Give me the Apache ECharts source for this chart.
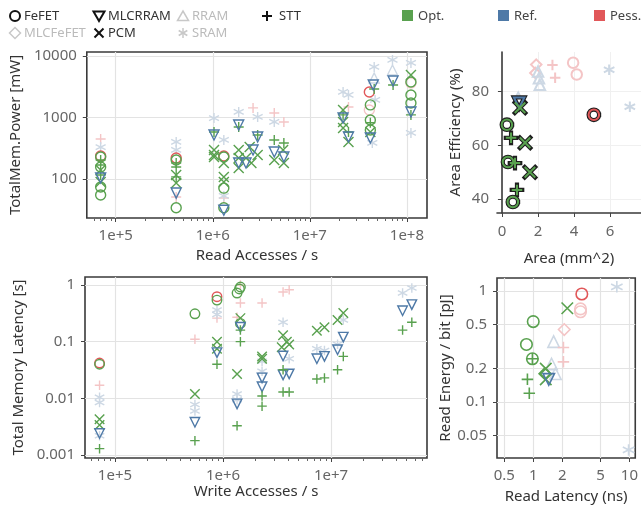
<!DOCTYPE html>
<html><head><meta charset="utf-8">
<script src="https://cdn.jsdelivr.net/npm/echarts@6/dist/echarts.min.js"></script>
<style>html,body{margin:0;padding:0;background:#fff}#c{width:641px;height:506px}</style>
</head><body><div id="c"></div>
<script>
// ---------- DATA ----------
// Techs: FeFET, MLCFeFET, MLCRRAM, RRAM, PCM, SRAM, STT
// Scenario codes: O = Opt., R = Ref., P = Pess.; lowercase = faded marker
const readPowerData = [ // [read accesses/s, total mem. power mW, tech, scen]
  [7e4,447,'STT','p'],[7e4,331,'SRAM','r'],[7e4,237,'FeFET','P'],[7e4,228,'FeFET','O'],[7e4,204,'STT','O'],
  [7e4,169,'STT','O'],[7e4,157,'FeFET','O'],[7e4,140,'PCM','O'],[7e4,116,'STT','O'],[7e4,104,'MLCRRAM','R'],
  [7e4,89,'PCM','O'],[7e4,74,'FeFET','O'],[7e4,55,'FeFET','O'],
  [4.2e5,400,'SRAM','r'],[4.2e5,296,'SRAM','r'],[4.2e5,219,'FeFET','P'],[4.2e5,204,'FeFET','O'],[4.2e5,182,'STT','O'],
  [4.2e5,157,'STT','O'],[4.2e5,116,'PCM','O'],[4.2e5,108,'STT','O'],[4.2e5,86,'PCM','O'],[4.2e5,59,'MLCRRAM','R'],
  [4.2e5,51,'STT','p'],[4.2e5,34,'FeFET','O'],
  [1.03e6,980,'SRAM','r'],[1.03e6,581,'STT','O'],[1.03e6,519,'MLCRRAM','R'],[1.03e6,296,'PCM','O'],[1.03e6,245,'PCM','O'],[1.03e6,228,'PCM','O'],
  [1.3e6,431,'SRAM','r'],[1.3e6,237,'FeFET','P'],[1.3e6,228,'FeFET','O'],[1.3e6,182,'PCM','O'],[1.3e6,108,'PCM','O'],
  [1.3e6,89,'PCM','O'],[1.3e6,71,'FeFET','O'],[1.3e6,49,'STT','p'],[1.3e6,53,'SRAM','r'],[1.3e6,34,'FeFET','O'],[1.3e6,31,'MLCRRAM','R'],
  [1.85e6,1230,'SRAM','r'],[1.85e6,755,'MLCRRAM','R'],[1.85e6,700,'STT','O'],[1.85e6,296,'PCM','O'],[1.85e6,219,'PCM','O'],
  [1.85e6,182,'MLCRRAM','R'],[1.85e6,151,'PCM','O'],
  [2.6e6,1430,'STT','p'],[2.9e6,1020,'SRAM','r'],[2.9e6,482,'MLCRRAM','R'],[2.9e6,519,'STT','O'],[2.4e6,331,'PCM','O'],
  [2.9e6,245,'PCM','O'],[2.5e6,182,'PCM','O'],[2.6e6,296,'MLCRRAM','R'],[2.2e6,182,'MLCRRAM','R'],[2.2e6,219,'PCM','O'],
  [4.3e6,1180,'STT','p'],[5.4e6,845,'STT','p'],[4.3e6,845,'SRAM','r'],[4.3e6,431,'STT','O'],[5.4e6,385,'STT','O'],
  [4.3e6,275,'MLCRRAM','R'],[5.4e6,228,'MLCRRAM','R'],[4.3e6,204,'PCM','O'],[5.4e6,182,'PCM','O'],[5.3e6,296,'PCM','O'],
  [2.2e7,2600,'SRAM','r'],[2.5e7,2320,'SRAM','r'],[2.5e7,1480,'STT','p'],[2.2e7,1320,'PCM','O'],[2.2e7,1100,'STT','O'],
  [2.2e7,980,'MLCRRAM','R'],[2.2e7,845,'PCM','O'],[2.2e7,675,'PCM','O'],[2.5e7,581,'STT','O'],[2.5e7,482,'MLCRRAM','R'],[2.5e7,400,'PCM','O'],
  [4.6e7,6630,'SRAM','r'],[4.6e7,4390,'RRAM','r'],[4.5e7,3370,'MLCRRAM','R'],[4.6e7,2900,'STT','O'],[4.1e7,2600,'FeFET','P'],
  [4.7e7,1930,'SRAM','r'],[4.2e7,1600,'FeFET','O'],[4.1e7,1320,'FeFET','p'],[4.2e7,910,'FeFET','O'],[4.2e7,820,'STT','O'],
  [4.2e7,626,'FeFET','O'],[4.2e7,581,'PCM','O'],[4.2e7,464,'MLCRRAM','R'],[4.4e7,385,'SRAM','r'],
  [7.1e7,8600,'SRAM','r'],[7.1e7,5910,'RRAM','r'],[7.2e7,3920,'MLCRRAM','R'],[7.2e7,3370,'STT','O'],
  [1.1e8,7700,'SRAM','r'],[1.1e8,4910,'PCM','O'],[1.1e8,3650,'FeFET','p'],[1.1e8,3780,'FeFET','O'],[1.1e8,2320,'FeFET','O'],
  [1.1e8,1720,'FeFET','O'],[1.1e8,1230,'MLCRRAM','R'],[1.1e8,1100,'STT','O'],[1.1e8,560,'SRAM','r']
];
const areaEffData = [ // [area mm^2, area efficiency %, tech, scen]
  [1.9,90.1,'MLCFeFET','p'],[1.85,87,'MLCFeFET','p'],[2.8,90,'STT','p'],[2.95,85.2,'STT','p'],
  [3.95,90.8,'FeFET','p'],[4.15,86.4,'FeFET','p'],[2.0,87.5,'RRAM','r'],[2.1,82.6,'RRAM','r'],[2.05,85,'RRAM','r'],
  [5.95,88.2,'SRAM','r'],[7.1,74.4,'SRAM','r'],[0.9,77.8,'RRAM','r'],
  [0.95,75.9,'MLCRRAM','R'],[1.0,74,'PCM','O'],[5.1,71.4,'FeFET','P'],
  [0.27,67.7,'FeFET','O'],[0.5,62.8,'STT','O'],[1.28,61,'PCM','O'],[0.33,53.8,'FeFET','O'],[0.72,53.4,'STT','O'],
  [1.55,50,'PCM','O'],[0.83,43.4,'STT','O'],[0.6,38.9,'FeFET','O']
];
const writeLatencyData = [ // [write accesses/s, total memory latency s, tech, scen]
  [7.2e4,0.042,'FeFET','P'],[7.2e4,0.040,'FeFET','O'],[7.2e4,0.017,'STT','p'],[7.2e4,0.0105,'SRAM','r'],[7.2e4,0.0085,'SRAM','r'],
  [7.2e4,0.0043,'PCM','O'],[7.2e4,0.0034,'PCM','O'],[7.2e4,0.0022,'SRAM','r'],[7.2e4,0.0024,'MLCRRAM','R'],[7.2e4,0.0013,'STT','O'],
  [5.5e5,0.31,'FeFET','O'],[5.5e5,0.11,'STT','p'],[5.5e5,0.012,'PCM','O'],[5.5e5,0.0078,'SRAM','r'],[5.5e5,0.006,'SRAM','r'],
  [5.5e5,0.0038,'MLCRRAM','R'],[5.5e5,0.0018,'STT','O'],
  [8.8e5,0.62,'FeFET','P'],[8.8e5,0.54,'FeFET','O'],[8.8e5,0.36,'SRAM','r'],[8.8e5,0.30,'SRAM','r'],[8.8e5,0.26,'STT','p'],
  [8.8e5,0.10,'PCM','O'],[8.8e5,0.075,'PCM','O'],[8.8e5,0.064,'MLCRRAM','R'],[8.8e5,0.040,'STT','O'],
  [1.35e6,0.72,'FeFET','O'],[1.45e6,0.92,'FeFET','O'],[1.42e6,0.85,'FeFET','O'],[1.45e6,1.0,'STT','p'],[1.45e6,0.48,'STT','p'],
  [1.35e6,0.27,'STT','p'],[1.45e6,0.26,'PCM','O'],[1.45e6,0.21,'FeFET','O'],[1.45e6,0.18,'MLCRRAM','R'],[1.45e6,0.16,'STT','O'],
  [1.45e6,0.10,'STT','O'],[1.35e6,0.027,'PCM','O'],[1.35e6,0.012,'SRAM','r'],[1.35e6,0.0095,'SRAM','r'],[1.35e6,0.008,'MLCRRAM','R'],
  [1.35e6,0.0033,'STT','O'],
  [2.3e6,0.48,'STT','p'],[2.3e6,0.055,'PCM','O'],[2.3e6,0.05,'PCM','O'],[2.3e6,0.045,'SRAM','r'],[2.3e6,0.03,'SRAM','r'],
  [2.3e6,0.023,'MLCRRAM','R'],[2.3e6,0.016,'MLCRRAM','R'],[2.3e6,0.011,'STT','O'],[2.3e6,0.0073,'STT','O'],
  [3.6e6,0.75,'STT','p'],[4.1e6,0.82,'STT','p'],[3.6e6,0.22,'SRAM','r'],[3.6e6,0.13,'PCM','O'],[3.9e6,0.10,'PCM','O'],
  [4.1e6,0.089,'PCM','O'],[3.5e6,0.08,'PCM','O'],[3.6e6,0.056,'MLCRRAM','R'],[4.1e6,0.05,'SRAM','r'],[3.6e6,0.032,'STT','O'],
  [3.6e6,0.026,'MLCRRAM','R'],[4.1e6,0.027,'MLCRRAM','R'],[3.6e6,0.013,'STT','O'],[4.1e6,0.013,'STT','O'],
  [7.4e6,0.155,'PCM','O'],[8.7e6,0.18,'PCM','O'],[7.4e6,0.075,'SRAM','r'],[8.7e6,0.07,'SRAM','r'],[7.4e6,0.05,'MLCRRAM','R'],
  [8.7e6,0.055,'MLCRRAM','R'],[7.4e6,0.022,'STT','O'],[8.7e6,0.023,'STT','O'],
  [1.15e7,0.24,'PCM','O'],[1.3e7,0.32,'PCM','O'],[1.3e7,0.24,'SRAM','r'],[1.15e7,0.09,'SRAM','r'],[1.3e7,0.12,'MLCRRAM','R'],
  [1.15e7,0.072,'MLCRRAM','R'],[1.3e7,0.055,'STT','O'],[1.15e7,0.032,'STT','O'],
  [4.6e7,0.72,'SRAM','r'],[5.6e7,0.88,'SRAM','r'],[4.6e7,0.35,'MLCRRAM','R'],[5.6e7,0.45,'MLCRRAM','R'],
  [4.6e7,0.16,'STT','O'],[5.6e7,0.22,'STT','O']
];
const readLatEnergyData = [ // [read latency ns, read energy/bit pJ, tech, scen]
  [3.2,0.94,'FeFET','P'],[7.4,1.09,'SRAM','r'],[2.26,0.70,'PCM','O'],[3.1,0.69,'FeFET','p'],[3.1,0.65,'FeFET','p'],
  [1.0,0.53,'FeFET','O'],[2.1,0.45,'MLCFeFET','p'],[1.63,0.35,'RRAM','r'],[0.85,0.33,'FeFET','O'],[2.06,0.31,'STT','p'],
  [2.06,0.23,'STT','p'],[0.98,0.245,'FeFET','O'],[0.98,0.245,'STT','O'],[1.55,0.22,'RRAM','r'],[1.7,0.18,'RRAM','r'],
  [1.35,0.2,'PCM','O'],[1.32,0.18,'MLCFeFET','O'],[1.35,0.16,'PCM','O'],[1.45,0.16,'MLCRRAM','R'],[0.87,0.16,'STT','O'],
  [0.91,0.12,'STT','O'],[9.8,0.037,'SRAM','r']
];
const accessTicks = [1e5,1e6,1e7,1e8];
const powerTicks = [100,1000,10000];
const areaTicks = [0,2,4,6];
const effTicks = [40,60,80];
const latencyTicks = [0.001,0.01,0.1,1];
const readLatTicks = [0.5,1,2,5,10];
const energyTicks = [0.05,0.1,0.2,0.5,1];
const techNames = ['FeFET','MLCRRAM','RRAM','STT','MLCFeFET','PCM','SRAM'];
const scenarioNames = ['Opt.','Ref.','Pess.'];

// ---------- STYLE ----------
const FONT = '"Noto Sans", sans-serif';
const COLORS = {O:'#59a14f', R:'#4e79a7', P:'#e15759', r:'#cdd8e4', p:'#f4c5c6'};
const SYMBOLS = {
  FeFET:'circle', MLCFeFET:'diamond', MLCRRAM:'path://M0,0L10,0L5,8.66Z', RRAM:'triangle',
  PCM:'path://M0,0L10,10M10,0L0,10',
  SRAM:'path://M5,0L5,10M0.67,2.5L9.33,7.5M0.67,7.5L9.33,2.5',
  STT:'path://M5,0L5,10M0,5L10,5'
};
const minorVals = (lo, hi) => { const a=[]; for (let e=lo;e<=hi;e++) for (let m=2;m<=9;m++) a.push(m*Math.pow(10,e)); return a; };
const numFmt = v => String(+(+v).toPrecision(4));
const expFmt = v => '1e+' + Math.round(Math.log10(v));

function buildSeries(data, xi, yi, size, bw, outlined) {
  const groups = {};
  data.forEach(d => { const k = d[2] + '|' + d[3]; (groups[k] = groups[k] || []).push([d[0], d[1]]); });
  const keys = Object.keys(groups).sort((a,b)=>{
    const fa = a.split('|')[1], fb = b.split('|')[1];
    const ra = fa === fa.toLowerCase() ? 0 : 1, rb = fb === fb.toLowerCase() ? 0 : 1;
    return ra - rb;
  });
  const out = [];
  keys.forEach(k => {
    const [tech, sc] = k.split('|');
    const faded = sc === sc.toLowerCase();
    const base = {type:'scatter', xAxisIndex:xi, yAxisIndex:yi, symbol:SYMBOLS[tech], symbolSize:size,
      data:groups[k], silent:true, animation:false};
    if (outlined && !faded) {
      out.push(Object.assign({}, base, {z:3, itemStyle:{color:'rgba(0,0,0,0)', borderColor:'#1e1e1e', borderWidth:bw+2.2, borderCap:'square', opacity:1}}));
      out.push(Object.assign({}, base, {z:4, itemStyle:{color:'rgba(0,0,0,0)', borderColor:COLORS[sc], borderWidth:bw, opacity:1}}));
    } else {
      out.push(Object.assign({}, base, {z: faded ? 2 : 3, itemStyle:{color:'rgba(0,0,0,0)', borderColor:COLORS[sc], borderWidth:bw, opacity:1}}));
    }
  });
  return out;
}

const labelStyle = {color:'#666', fontSize:15, fontFamily:FONT};
const nameStyle = {color:'#333', fontSize:15, fontFamily:FONT};
const gridLine = {show:true, lineStyle:{color:'#e3e3e3', width:1.2}};
const tick = {show:true, length:4, lineStyle:{color:'#444'}};
const frame = {show:true, borderColor:'#3a3a3a', borderWidth:1.6, backgroundColor:'transparent'};

function logAxis(gi, min, max, ticks, fmt, extra) {
  return Object.assign({type:'log', gridIndex:gi, min, max, logBase:10,
    axisLine:{show:false}, axisTick:Object.assign({}, tick, {customValues:ticks}),
    axisLabel:Object.assign({}, labelStyle, {customValues:ticks, formatter:fmt, margin:10, showMinLabel:true, showMaxLabel:true}),
    splitLine:gridLine, minorTick:{show:false}, minorSplitLine:{show:false}}, extra || {});
}
function minorAxis(gi, min, max, vals) {
  return {type:'log', gridIndex:gi, min, max, position:'bottom', offset:0,
    axisLine:{show:false}, axisLabel:{show:false}, splitLine:{show:false},
    axisTick:{show:true, length:3, customValues:vals, lineStyle:{color:'#666'}}};
}

const option = {
  backgroundColor:'#fff',
  animation:false,
  textStyle:{fontFamily:FONT},
  grid:[
    Object.assign({left:86, top:52, width:341, height:166}, frame),
    {left:497, top:52, width:144, height:161, show:false},
    Object.assign({left:85, top:277, width:342, height:181}, frame),
    Object.assign({left:497, top:278, width:142, height:180}, frame)
  ],
  xAxis:[
    logAxis(0, 50400, 1.61e8, accessTicks, expFmt, {name:'Read Accesses / s', nameLocation:'middle', nameGap:30, nameTextStyle:nameStyle}),
    minorAxis(0, 50400, 1.61e8, minorVals(4,8)),
    {type:'value', gridIndex:1, min:-0.28, max:7.72,
      axisLine:{show:true, lineStyle:{color:'#3a3a3a', width:1.6}},
      axisTick:{show:true, length:4, customValues:areaTicks, lineStyle:{color:'#444'}},
      axisLabel:Object.assign({}, labelStyle, {customValues:areaTicks, margin:11}),
      splitLine:{show:true, lineStyle:{color:'#f0f0f0', width:1}},
      name:'Area (mm^2)', nameLocation:'middle', nameGap:38, nameTextStyle:nameStyle},
    logAxis(2, 52800, 7.74e7, accessTicks.slice(0,3), expFmt, {name:'Write Accesses / s', nameLocation:'middle', nameGap:26, nameTextStyle:nameStyle}),
    minorAxis(2, 52800, 7.74e7, minorVals(4,7)),
    logAxis(3, 0.42, 11.5, readLatTicks, numFmt, {name:'Read Latency (ns)', nameLocation:'middle', nameGap:31, nameTextStyle:nameStyle})
  ],
  yAxis:[
    logAxis(0, 23.2, 11600, powerTicks, numFmt, {name:'TotalMem.Power [mW]', nameLocation:'middle', nameGap:59, nameTextStyle:nameStyle}),
    {type:'value', gridIndex:1, min:34.8, max:94.8,
      axisLine:{show:true, lineStyle:{color:'#3a3a3a', width:1.6}},
      axisTick:{show:true, length:4, customValues:effTicks, lineStyle:{color:'#444'}},
      axisLabel:Object.assign({}, labelStyle, {customValues:effTicks, margin:8}),
      splitLine:{show:true, lineStyle:{color:'#f0f0f0', width:1}},
      name:'Area Efficiency (%)', nameLocation:'middle', nameGap:34, nameTextStyle:nameStyle},
    logAxis(2, 0.00089, 1.38, latencyTicks, numFmt, {name:'Total Memory Latency [s]', nameLocation:'middle', nameGap:52, nameTextStyle:nameStyle}),
    logAxis(3, 0.0313, 1.31, energyTicks, numFmt, {name:'Read Energy / bit [pJ]', nameLocation:'middle', nameGap:40, nameTextStyle:nameStyle})
  ],
  series:[].concat(
    buildSeries(readPowerData, 0, 0, 10, 1.4, false),
    buildSeries(areaEffData, 2, 1, 10.5, 2, true),
    buildSeries(writeLatencyData, 3, 2, 9.5, 1.4, false),
    buildSeries(readLatEnergyData, 5, 3, 11.5, 1.6, false)
  ),
  graphic:[]
};

// ---------- LEGEND (graphic) ----------
const G = option.graphic;
const dark = '#111', fadedSym = '#c8c8c8', txtDark = '#333', txtFaded = '#bbb';
function gLine(x1,y1,x2,y2,c,w){ G.push({type:'line', shape:{x1,y1,x2,y2}, style:{stroke:c, lineWidth:w}, silent:true}); }
function gText(x,y,t,c){ G.push({type:'text', style:{x, y, text:t, fill:c, font:'13px ' + FONT, verticalAlign:'middle'}, silent:true}); }
function legendSym(tech, cx, cy, c) {
  const r = 5, w = 2;
  if (tech === 'FeFET') G.push({type:'circle', shape:{cx, cy, r}, style:{fill:'none', stroke:c, lineWidth:w}, silent:true});
  else if (tech === 'MLCRRAM') G.push({type:'polygon', shape:{points:[[cx-5.5,cy-4.5],[cx+5.5,cy-4.5],[cx,cy+5]]}, style:{fill:'none', stroke:c, lineWidth:w}, silent:true});
  else if (tech === 'RRAM') G.push({type:'polygon', shape:{points:[[cx-5.5,cy+4.5],[cx+5.5,cy+4.5],[cx,cy-5]]}, style:{fill:'none', stroke:c, lineWidth:1.5}, silent:true});
  else if (tech === 'MLCFeFET') G.push({type:'polygon', shape:{points:[[cx,cy-5.5],[cx+5.5,cy],[cx,cy+5.5],[cx-5.5,cy]]}, style:{fill:'none', stroke:c, lineWidth:1.5}, silent:true});
  else if (tech === 'STT') { gLine(cx-5,cy,cx+5,cy,c,w); gLine(cx,cy-5,cx,cy+5,c,w); }
  else if (tech === 'PCM') { gLine(cx-4.5,cy-4.5,cx+4.5,cy+4.5,c,w); gLine(cx+4.5,cy-4.5,cx-4.5,cy+4.5,c,w); }
  else if (tech === 'SRAM') { gLine(cx,cy-5,cx,cy+5,c,1.5); gLine(cx-4.3,cy-2.5,cx+4.3,cy+2.5,c,1.5); gLine(cx-4.3,cy+2.5,cx+4.3,cy-2.5,c,1.5); }
}
const legendPos = {FeFET:[15,16], MLCRRAM:[99,16], RRAM:[183,16], STT:[267,16], MLCFeFET:[15,33], PCM:[99,33], SRAM:[183,33]};
const fadedTech = {RRAM:true, MLCFeFET:true, SRAM:true};
techNames.forEach(t => {
  const [x,y] = legendPos[t];
  const f = fadedTech[t];
  legendSym(t, x, y, f ? fadedSym : dark);
  gText(x + (t === 'STT' ? 12 : 9), y, t, f ? txtFaded : txtDark);
});
const scenColors = [COLORS.O, COLORS.R, COLORS.P];
const scenX = [402, 498, 594];
scenarioNames.forEach((s,i) => {
  G.push({type:'rect', shape:{x:scenX[i], y:10, width:11, height:11}, style:{fill:scenColors[i]}, silent:true});
  gText(scenX[i] + 16, 16, s, '#444');
});

const chart = echarts.init(document.getElementById('c'), null, {renderer:'canvas'});
chart.setOption(option);
</script>
</body></html>
